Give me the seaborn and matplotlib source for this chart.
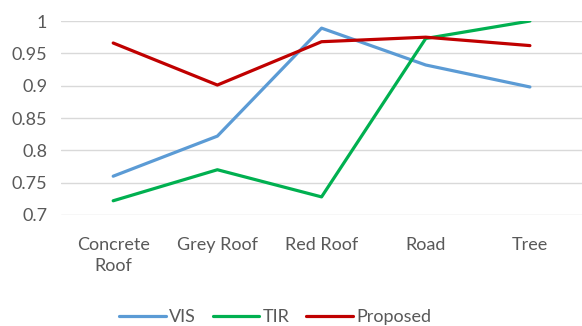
import numpy as np
import pandas as pd
import seaborn as sns
import matplotlib.pyplot as plt

##----------- Data --------------##
categories = ["Concrete\nRoof", "Grey Roof", "Red Roof", "Road", "Tree"]
vis = [0.760, 0.822, 0.989, 0.932, 0.898]
tir = [0.722, 0.770, 0.728, 0.973, 1.000]
proposed = [0.966, 0.901, 0.968, 0.975, 0.962]
y_ticks = [0.7, 0.75, 0.8, 0.85, 0.9, 0.95, 1.0]
y_ticklabels = ["0.7", "0.75", "0.8", "0.85", "0.9", "0.95", "1"]

colors = {"VIS": "#5B9BD5", "TIR": "#00B050", "Proposed": "#C00000"}

data = pd.DataFrame({
    "Class": categories * 3,
    "Score": vis + tir + proposed,
    "Method": ["VIS"] * 5 + ["TIR"] * 5 + ["Proposed"] * 5,
})

##----------- Plot --------------##
sns.set_style("white")
plt.rcParams['font.family'] = ['Lato', 'DejaVu Sans']
text_col = "#595959"

fig = plt.figure(figsize=(5.82, 3.26), dpi=100)
ax = fig.add_axes([0.105, 0.3405, 0.895, 0.595])
sns.lineplot(data=data, x="Class", y="Score", hue="Method", palette=colors,
             linewidth=2.3, ax=ax, sort=False, legend=True)

ax.set_xlim(-0.5, 4.5)
ax.set_ylim(0.7, 1.0)
ax.set_yticks(y_ticks)
ax.set_yticklabels(y_ticklabels)
ax.yaxis.grid(True, color="#D9D9D9", linewidth=1.0)
ax.set_axisbelow(True)
for s in ax.spines.values():
    s.set_visible(False)
ax.tick_params(axis="both", length=0, labelsize=13, colors=text_col)
ax.tick_params(axis="x", pad=16)
ax.tick_params(axis="y", pad=10)
for lbl in ax.get_xticklabels():
    lbl.set_linespacing(1.4)
ax.set_xlabel("")
ax.set_ylabel("")

handles, labels = ax.get_legend_handles_labels()
ax.get_legend().remove()
fig.legend(handles, labels, loc="lower center", bbox_to_anchor=(0.473, -0.048),
           ncol=3, frameon=False, fontsize=13, handlelength=2.6,
           handletextpad=0.2, columnspacing=0.9, labelcolor=text_col)

plt.savefig("out.png", dpi=100)
plt.close()
